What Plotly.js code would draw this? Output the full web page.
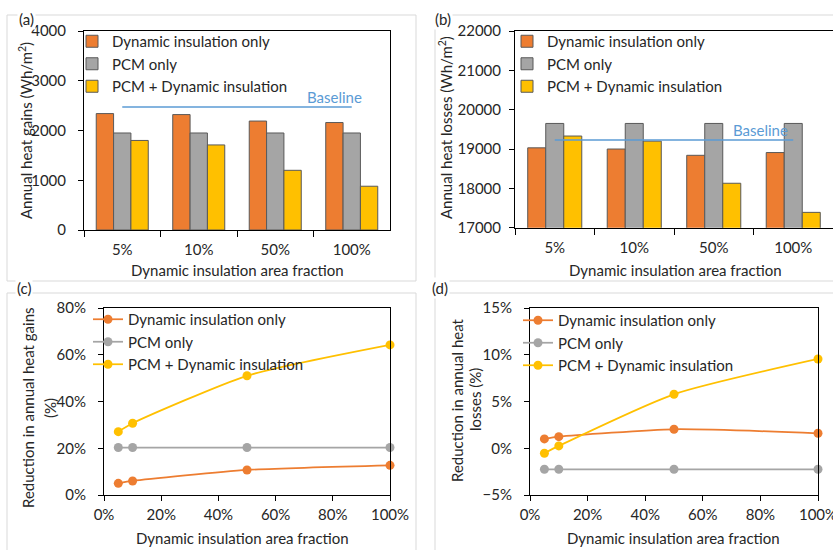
<!DOCTYPE html>
<html>
<head>
<meta charset="utf-8">
<script src="https://cdn.plot.ly/plotly-3.0.1.min.js"></script>
<style>html,body{margin:0;padding:0;background:#fff;}#chart{width:833px;height:550px;}</style>
</head>
<body>
<div id="chart"></div>
<script>
// ---- data ----
const categories = ['5%', '10%', '50%', '100%'];
const seriesNames = ['Dynamic insulation only', 'PCM only', 'PCM + Dynamic insulation'];

const gainsDyn  = [2340, 2320, 2190, 2160];
const gainsPCM  = [1950, 1950, 1950, 1950];
const gainsBoth = [1800, 1710, 1200, 880];
const gainsBaseline = [2470, 2470];

const lossesDyn  = [19030, 19000, 18840, 18910];
const lossesPCM  = [19650, 19650, 19650, 19650];
const lossesBoth = [19330, 19200, 18130, 17390];
const lossesBaseline = [19230, 19230];

const baselineCats = ['5%', '100%'];

const fractions = [0.05, 0.10, 0.50, 1.00];
const redGainsDyn  = [0.050, 0.060, 0.107, 0.127];
const redGainsPCM  = [0.203, 0.203, 0.203, 0.203];
const redGainsBoth = [0.271, 0.307, 0.510, 0.642];

const redLossesDyn  = [0.010, 0.0124, 0.0203, 0.016];
const redLossesPCM  = [-0.0225, -0.0225, -0.0225, -0.0225];
const redLossesBoth = [-0.0053, 0.0025, 0.0577, 0.0955];

// ---- styles ----
const W = 833, H = 550;
const px = v => v / W;
const py = v => 1 - v / H;
const colors = ['#ED7D31', '#A5A5A5', '#FFC000'];
const baseColor = '#5B9BD5';
const FONT = 'Lato, "Liberation Sans", sans-serif';
const FS = 15;
const txt = '#262626';

function barTrace(x, y, i, xa, ya, lg) {
  return {type: 'bar', x: x, y: y, name: seriesNames[i], xaxis: xa, yaxis: ya, legend: lg,
    marker: {color: colors[i], line: {color: '#595959', width: 1}}};
}
function lineTrace(x, y, i, xa, ya, lg) {
  return {type: 'scatter', mode: 'lines+markers', x: x, y: y, name: seriesNames[i], xaxis: xa, yaxis: ya, legend: lg,
    line: {color: colors[i], width: 1.75, shape: 'spline', smoothing: 0.6},
    marker: {color: colors[i], size: 9}, cliponaxis: false};
}

const data = [
  barTrace(categories, gainsDyn, 0, 'x', 'y', 'legend'),
  barTrace(categories, gainsPCM, 1, 'x', 'y', 'legend'),
  barTrace(categories, gainsBoth, 2, 'x', 'y', 'legend'),
  {type: 'scatter', mode: 'lines', x: baselineCats, y: gainsBaseline, xaxis: 'x', yaxis: 'y', showlegend: false,
   line: {color: baseColor, width: 1.5}, hoverinfo: 'skip'},
  barTrace(categories, lossesDyn, 0, 'x2', 'y2', 'legend2'),
  barTrace(categories, lossesPCM, 1, 'x2', 'y2', 'legend2'),
  barTrace(categories, lossesBoth, 2, 'x2', 'y2', 'legend2'),
  {type: 'scatter', mode: 'lines', x: baselineCats, y: lossesBaseline, xaxis: 'x2', yaxis: 'y2', showlegend: false,
   line: {color: baseColor, width: 1.5}, hoverinfo: 'skip'},
  lineTrace(fractions, redGainsDyn, 0, 'x3', 'y3', 'legend3'),
  lineTrace(fractions, redGainsPCM, 1, 'x3', 'y3', 'legend3'),
  lineTrace(fractions, redGainsBoth, 2, 'x3', 'y3', 'legend3'),
  lineTrace(fractions, redLossesDyn, 0, 'x4', 'y4', 'legend4'),
  lineTrace(fractions, redLossesPCM, 1, 'x4', 'y4', 'legend4'),
  lineTrace(fractions, redLossesBoth, 2, 'x4', 'y4', 'legend4')
];

const axBase = {showline: true, linecolor: '#000', linewidth: 1, mirror: true, showgrid: false, zeroline: false,
  ticks: 'outside', ticklen: 5, tickcolor: '#000', tickfont: {family: FONT, size: FS, color: txt},
  ticklabeloverflow: 'allow', fixedrange: true};

function catX(dom, anchor) {
  return Object.assign({}, axBase, {domain: dom, anchor: anchor, type: 'category', tickson: 'boundaries', ticklen: 6,
    ticklabelstandoff: 6});
}
function legendAt(x, y) {
  return {x: px(x), y: py(y), xanchor: 'left', yanchor: 'top', bgcolor: 'rgba(0,0,0,0)',
    font: {family: FONT, size: FS, color: txt}, tracegroupgap: 0, itemclick: false, itemdoubleclick: false};
}
function ann(text, x, y, opts) {
  return Object.assign({text: text, x: px(x), y: py(y), xref: 'paper', yref: 'paper', showarrow: false,
    xanchor: 'center', yanchor: 'middle', font: {family: FONT, size: FS, color: txt}}, opts || {});
}
function frame(x0, y0, x1, y1) {
  return {type: 'rect', xref: 'paper', yref: 'paper', x0: px(x0), x1: px(x1), y0: py(y0), y1: py(y1),
    line: {color: '#d9d9d9', width: 1}, layer: 'below'};
}

const layout = {
  width: W, height: H, margin: {l: 0, r: 0, t: 0, b: 0}, paper_bgcolor: '#fff', plot_bgcolor: 'rgba(0,0,0,0)',
  barmode: 'group', bargap: 0.32, bargroupgap: 0, showlegend: true,
  font: {family: FONT, size: FS, color: txt},
  xaxis: catX([px(84), px(390)], 'y'),
  yaxis: Object.assign({}, axBase, {domain: [py(230), py(31)], anchor: 'x', range: [0, 4000], dtick: 1000, tickformat: 'd', ticklabelstandoff: 9}),
  xaxis2: catX([px(515), 1], 'y2'),
  yaxis2: Object.assign({}, axBase, {domain: [py(227.7), py(31)], anchor: 'x2', range: [17000, 22000], dtick: 1000, tickformat: 'd', ticklabelstandoff: 5}),
  xaxis3: Object.assign({}, axBase, {domain: [px(104), px(390)], anchor: 'y3', range: [0, 1], dtick: 0.2, tickformat: '.0%', ticklabelstandoff: 1}),
  yaxis3: Object.assign({}, axBase, {domain: [py(495), py(308)], anchor: 'x3', range: [0, 0.8], dtick: 0.2, tickformat: '.0%', ticklabelstandoff: 9}),
  xaxis4: Object.assign({}, axBase, {domain: [px(530), px(818)], anchor: 'y4', range: [0, 1], dtick: 0.2, tickformat: '.0%', ticklabelstandoff: 1}),
  yaxis4: Object.assign({}, axBase, {domain: [py(495), py(308)], anchor: 'x4', range: [-0.05, 0.15], dtick: 0.05, tickformat: '.0%', ticklabelstandoff: 9}),
  legend: legendAt(72, 25),
  legend2: legendAt(507, 25),
  legend3: legendAt(88, 303),
  legend4: legendAt(518, 304),
  shapes: [
    frame(7, 15, 416, 281),
    frame(435, 15, 840, 281),
    frame(7, 293, 416, 560),
    frame(435, 293, 840, 560)
  ],
  annotations: [
    ann('(a)', 26, 19, {bgcolor: '#fff'}),
    ann('(b)', 443, 19, {bgcolor: '#fff'}),
    ann('(c)', 24, 288, {bgcolor: '#fff'}),
    ann('(d)', 440, 288, {bgcolor: '#fff'}),
    ann('Baseline', 334, 97, {font: {family: FONT, size: FS, color: baseColor}}),
    ann('Baseline', 760, 130, {font: {family: FONT, size: FS, color: baseColor}}),
    ann('Annual heat gains (Wh/m<sup>2</sup>)', 25, 131, {textangle: -90}),
    ann('Annual heat losses (Wh/m<sup>2</sup>)', 446, 128, {textangle: -90}),
    ann('Reduction in annual heat gains', 28, 408, {textangle: -90}),
    ann('(%)', 50, 408, {textangle: -90}),
    ann('Reduction in annual heat', 457, 400, {textangle: -90}),
    ann('losses (%)', 475, 400, {textangle: -90}),
    ann('Dynamic insulation area fraction', 237, 270),
    ann('Dynamic insulation area fraction', 675, 270),
    ann('Dynamic insulation area fraction', 242, 538),
    ann('Dynamic insulation area fraction', 673, 538)
  ]
};

Plotly.newPlot('chart', data, layout, {staticPlot: true, displayModeBar: false});
</script>
</body>
</html>
